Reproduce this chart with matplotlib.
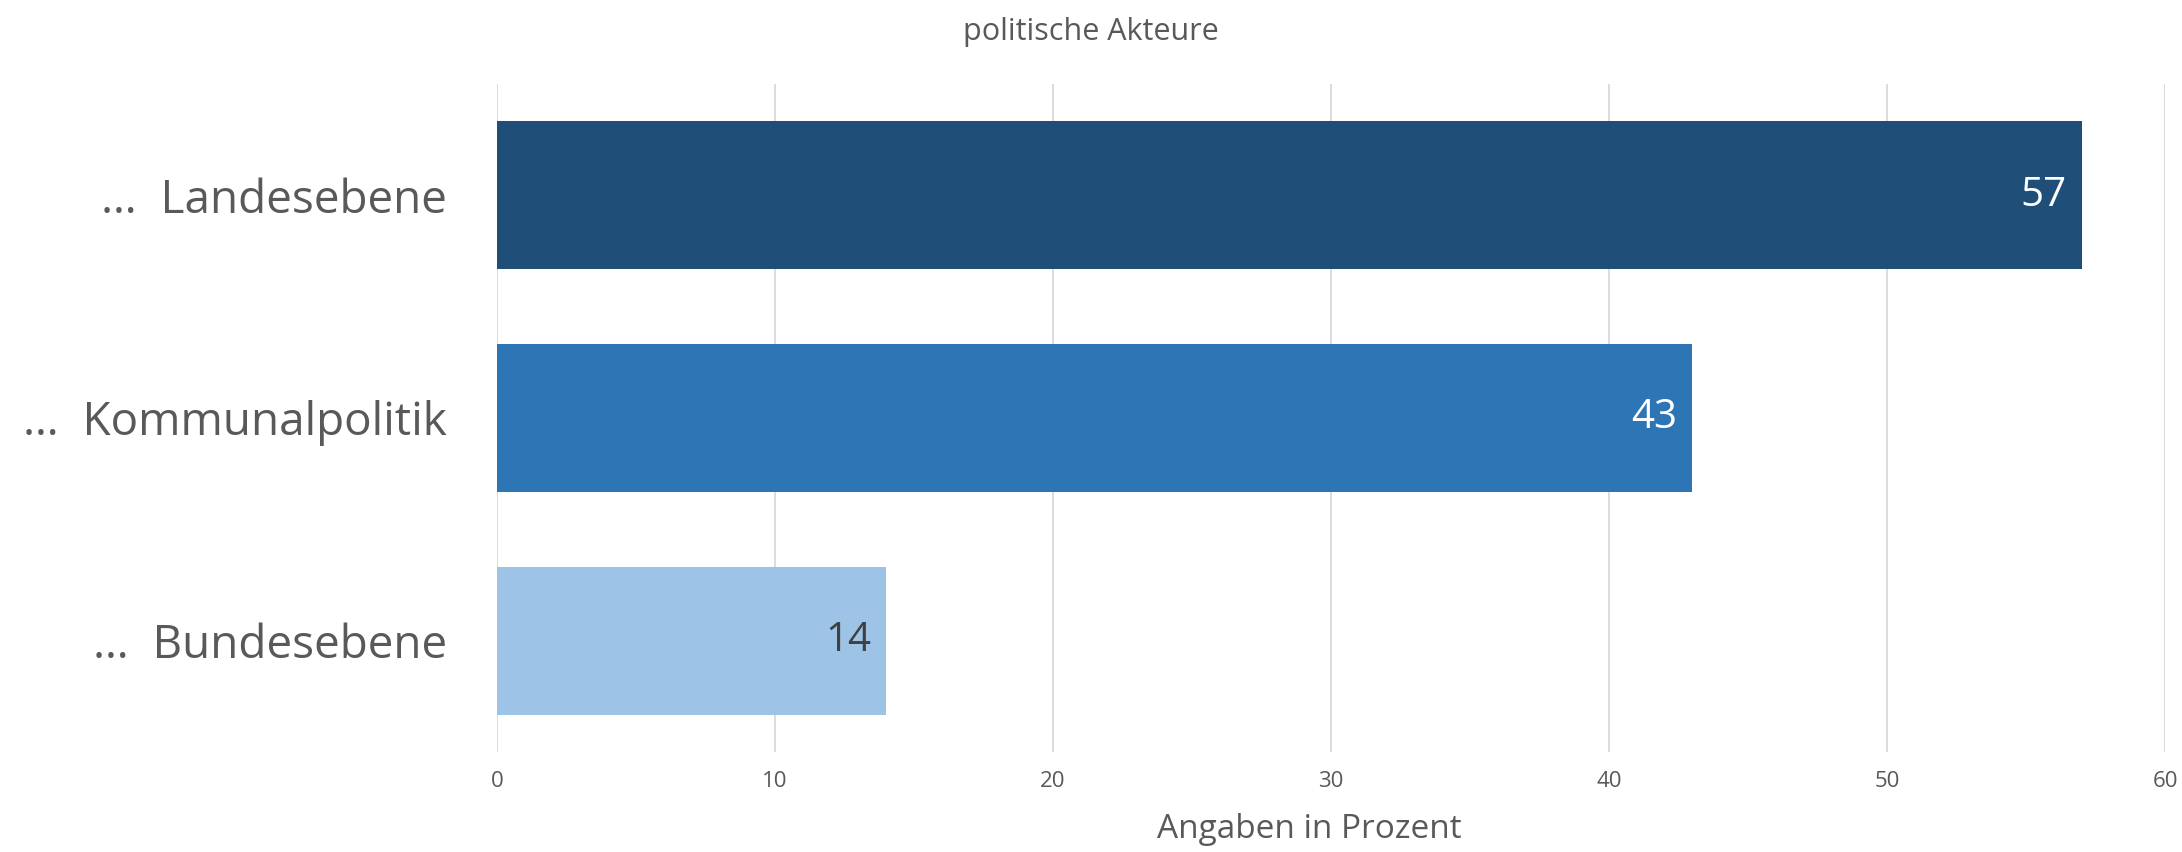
import matplotlib
matplotlib.use("Agg")
import matplotlib.pyplot as plt

categories = ["…  Landesebene", "…  Kommunalpolitik", "…  Bundesebene"]
values = [57, 43, 14]
colors = ["#1F4E79", "#2E75B6", "#9DC3E6"]
label_colors = ["white", "white", "#404040"]
xticks = [0, 10, 20, 30, 40, 50, 60]

plt.rcParams['font.family'] = ['Open Sans', 'DejaVu Sans']
gray = "#595959"

fig = plt.figure(figsize=(21.82, 8.52), dpi=100)
ax = fig.add_axes([497/2182, 1 - 752/852, (2165-497)/2182, (752-84)/852])

ypos = list(range(len(categories)))
bars = ax.barh(ypos, values, height=0.665, color=colors, zorder=3)
ax.set_ylim(len(categories) - 0.5, -0.5)
ax.set_xlim(0, 60)
ax.set_xticks(xticks)
ax.set_xticklabels([str(t) for t in xticks], fontsize=16, color=gray)
ax.tick_params(axis='x', length=0, pad=14)
ax.set_yticks(ypos)
ax.set_yticklabels(categories, fontsize=33, color=gray)
ax.tick_params(axis='y', length=0, pad=36)
ax.grid(axis='x', color="#D9D9D9", linewidth=1.3, zorder=0)
for s in ax.spines.values():
    s.set_visible(False)

for b, v, c in zip(bars, values, label_colors):
    ax.annotate(str(v), xy=(b.get_width(), b.get_y() + b.get_height()/2),
                xytext=(-11, 0), textcoords='offset points',
                ha='right', va='center', fontsize=29, color=c, zorder=4)

ax.set_xlabel("Angaben in Prozent", fontsize=24, color=gray)
ax.xaxis.set_label_coords(0.487, -0.092)
fig.text(0.5, 1 - 32/852, "politische Akteure", ha='center', va='center', fontsize=22, color=gray)

fig.savefig("out.png", dpi=100, facecolor="white")
